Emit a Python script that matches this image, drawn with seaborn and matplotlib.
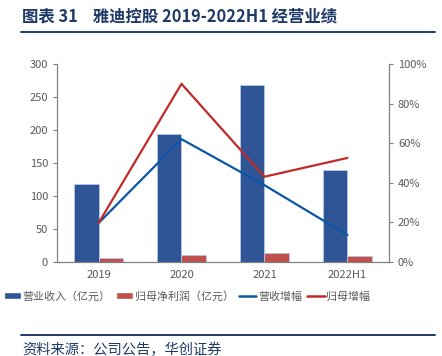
import matplotlib
matplotlib.use("Agg")
import matplotlib.pyplot as plt
import seaborn as sns
import pandas as pd
import numpy as np
from matplotlib.patches import Patch
from matplotlib.lines import Line2D

categories = ["2019", "2020", "2021", "2022H1"]
revenue = [118.2, 193.1, 267.9, 139.9]          # 营业收入（亿元）
net_profit = [5.1, 9.4, 12.5, 8.7]              # 归母净利润（亿元）
revenue_growth = [19.5, 62.0, 38.7, 13.5]       # 营收增幅 %
profit_growth = [19.5, 90.0, 43.0, 52.5]        # 归母增幅 %

bar_names = ["营业收入（亿元）", "归母净利润（亿元）"]
line_names = ["营收增幅", "归母增幅"]

sns.set_theme(style="white")
plt.rcParams['font.family'] = ['Noto Sans CJK SC', 'DejaVu Sans']

c_bar1 = "#2F5597"
c_bar2 = "#C0504D"
c_line1 = "#0B56A8"
c_line2 = "#C22A2A"
grey = "#595959"
navy = "#1F3A68"

df = pd.DataFrame({
    "cat": categories * 2,
    "val": revenue + net_profit,
    "series": [bar_names[0]] * 4 + [bar_names[1]] * 4,
})

fig = plt.figure(figsize=(4.42, 3.56), dpi=100)
ax = fig.add_axes([0.129, 0.265, 0.751, 0.555])
sns.barplot(data=df, x="cat", y="val", hue="series", order=categories,
            hue_order=bar_names, palette=[c_bar1, c_bar2], width=0.58,
            saturation=1, ax=ax, legend=False, edgecolor="#B4C7E7", linewidth=0.6)
ax.set_ylim(0, 300)
ax.set_yticks(np.arange(0, 301, 50))
ax.set_xlabel("")
ax.set_ylabel("")

ax2 = ax.twinx()
sns.pointplot(x=categories, y=revenue_growth, color=c_line1, markers="",
              linestyles="-", ax=ax2, lw=1.6)
sns.pointplot(x=categories, y=profit_growth, color=c_line2, markers="",
              linestyles="-", ax=ax2, lw=1.6)
ax2.set_ylim(0, 100)
ax2.set_yticks(np.arange(0, 101, 20))
ax2.set_yticklabels([f"{v}%" for v in range(0, 101, 20)])
ax.set_xlim(-0.5, 3.5)
ax2.set_xlim(-0.5, 3.5)

for a in (ax, ax2):
    for s in a.spines.values():
        s.set_visible(False)
    a.tick_params(axis="both", labelsize=8, labelcolor=grey, colors="#808080",
                  length=3, width=0.8)
    a.tick_params(axis="x", length=0, pad=6)
ax.spines["left"].set_visible(True)
ax.spines["bottom"].set_visible(True)
ax2.spines["right"].set_visible(True)
for s in (ax.spines["left"], ax.spines["bottom"], ax2.spines["right"]):
    s.set_color("#808080")
    s.set_linewidth(0.9)
for lab in ax.get_xticklabels():
    lab.set_color(grey)
    lab.set_fontsize(8)

handles = [
    Patch(facecolor=c_bar1, label=bar_names[0]),
    Patch(facecolor=c_bar2, label=bar_names[1]),
    Line2D([0], [0], color=c_line1, lw=1.8, label=line_names[0]),
    Line2D([0], [0], color=c_line2, lw=1.8, label=line_names[1]),
]
leg = fig.legend(handles=handles, loc="center", bbox_to_anchor=(0.423, 0.168),
                 ncol=4, frameon=False, fontsize=7.9, handlelength=1.6,
                 handleheight=0.6, handletextpad=0.15, columnspacing=0.45,
                 borderpad=0, borderaxespad=0)
for t in leg.get_texts():
    t.set_color(grey)

fig.text(0.05, 0.955, "图表 31    雅迪控股 2019-2022H1 经营业绩", fontsize=11.8,
         fontweight="bold", color=navy, ha="left", va="center")
fig.add_artist(Line2D([0.048, 0.985], [0.91, 0.91], color=navy, lw=1.4,
                      transform=fig.transFigure))
fig.add_artist(Line2D([0.048, 0.985], [0.059, 0.059], color=navy, lw=1.4,
                      transform=fig.transFigure))
fig.text(0.05, 0.016, "资料来源：公司公告，华创证券", fontsize=10.3, color=navy,
         ha="left", va="center")

fig.savefig("out.png", dpi=100)
